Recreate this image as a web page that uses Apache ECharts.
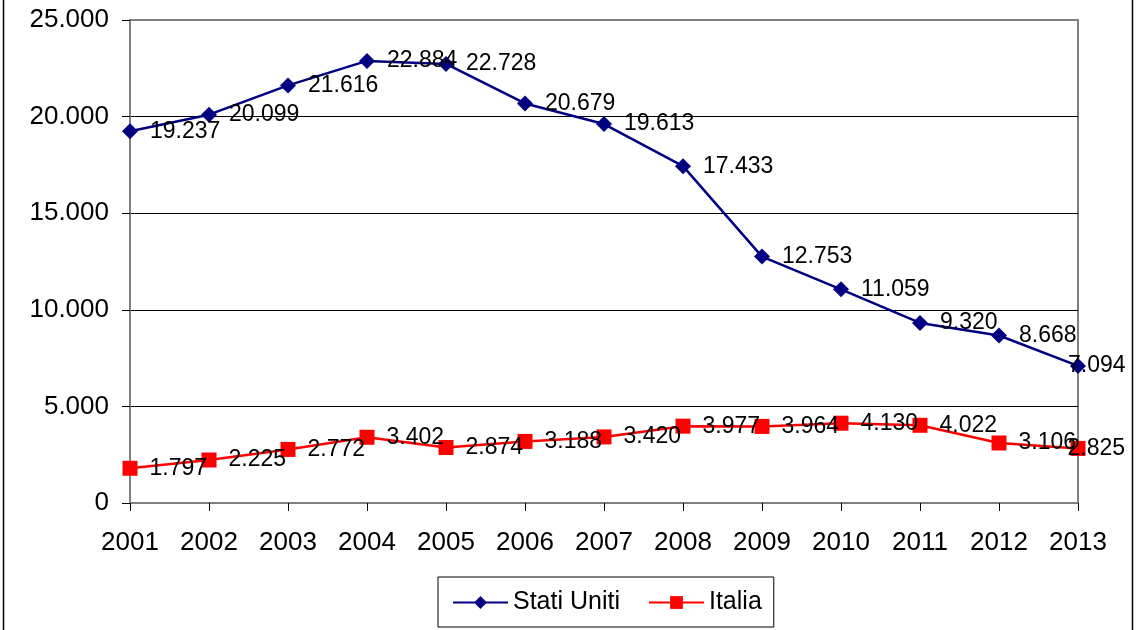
<!DOCTYPE html>
<html>
<head>
<meta charset="utf-8">
<script src="https://cdn.jsdelivr.net/npm/echarts@6/dist/echarts.min.js"></script>
<style>
  html, body { margin: 0; padding: 0; background: #fff; }
  #main { width: 1137px; height: 630px; }
</style>
</head>
<body>
<div id="main"></div>
<script>
var anni = ["2001", "2002", "2003", "2004", "2005", "2006", "2007", "2008", "2009", "2010", "2011", "2012", "2013"];
var statiUniti = [19237, 20099, 21616, 22884, 22728, 20679, 19613, 17433, 12753, 11059, 9320, 8668, 7094];
var italia = [1797, 2225, 2772, 3402, 2874, 3188, 3420, 3977, 3964, 4130, 4022, 3106, 2825];

// formato italiano: punto come separatore delle migliaia
function fmt(v) {
  return String(v).replace(/\B(?=(\d{3})+(?!\d))/g, ".");
}

// l'ultima etichetta sta sopra il punto, come in Excel
function punti(arr) {
  return arr.map(function (v, i) {
    if (i === arr.length - 1) {
      return { value: v, label: { distance: -18 } };
    }
    return v;
  });
}

var myChart = echarts.init(document.getElementById("main"));

var font = "'Liberation Sans', Arial, sans-serif";

var etichetta = {
  show: true,
  position: "right",
  distance: 12,
  fontSize: 23,
  color: "#000",
  fontFamily: font,
  formatter: function (p) { return fmt(p.value); },
};

var option = {
  animation: false,
  textStyle: { fontFamily: font },
  grid: {
    left: 130,
    right: 59,
    top: 20,
    bottom: 127,
    show: true,
    borderColor: "#808080",
    borderWidth: 2,
  },
  legend: {
    data: ["Stati Uniti", "Italia"],
    left: 438,
    top: 577,
    padding: [13, 12, 12, 14],
    borderColor: "#000",
    borderWidth: 1,
    itemWidth: 55,
    itemHeight: 16,
    itemGap: 28,
    textStyle: { fontSize: 25, color: "#000", fontFamily: font },
  },
  xAxis: {
    type: "category",
    boundaryGap: false,
    data: anni,
    axisLine: { lineStyle: { color: "#808080", width: 2 } },
    axisTick: { show: true, length: 8, lineStyle: { color: "#000" } },
    axisLabel: { fontSize: 26, color: "#000", margin: 27, fontFamily: font },
  },
  yAxis: {
    type: "value",
    min: 0,
    max: 25000,
    interval: 5000,
    axisLine: { show: true, lineStyle: { color: "#808080", width: 2 } },
    axisTick: { show: true, length: 8, lineStyle: { color: "#000" } },
    axisLabel: {
      fontSize: 26,
      color: "#000",
      margin: 21,
      fontFamily: font,
      formatter: function (v) { return fmt(v); },
    },
    splitLine: {
      lineStyle: { color: ["#808080", "#000", "#000", "#000", "#000", "#808080"], width: 1 },
    },
  },
  series: [
    {
      name: "Stati Uniti",
      type: "line",
      data: punti(statiUniti),
      symbol: "diamond",
      symbolSize: 16,
      lineStyle: { color: "#000080", width: 2.5 },
      itemStyle: { color: "#000080" },
      label: etichetta,
    },
    {
      name: "Italia",
      type: "line",
      data: punti(italia),
      symbol: "rect",
      symbolSize: 15,
      lineStyle: { color: "#ff0000", width: 2.5 },
      itemStyle: { color: "#ff0000" },
      label: etichetta,
    },
  ],
  graphic: [
    { type: "line", shape: { x1: 3.5, y1: 0, x2: 3.5, y2: 630 }, style: { stroke: "#000", lineWidth: 1.5 } },
    { type: "line", shape: { x1: 1132.5, y1: 0, x2: 1132.5, y2: 630 }, style: { stroke: "#000", lineWidth: 1.5 } },
  ],
};

myChart.setOption(option);
</script>
</body>
</html>
